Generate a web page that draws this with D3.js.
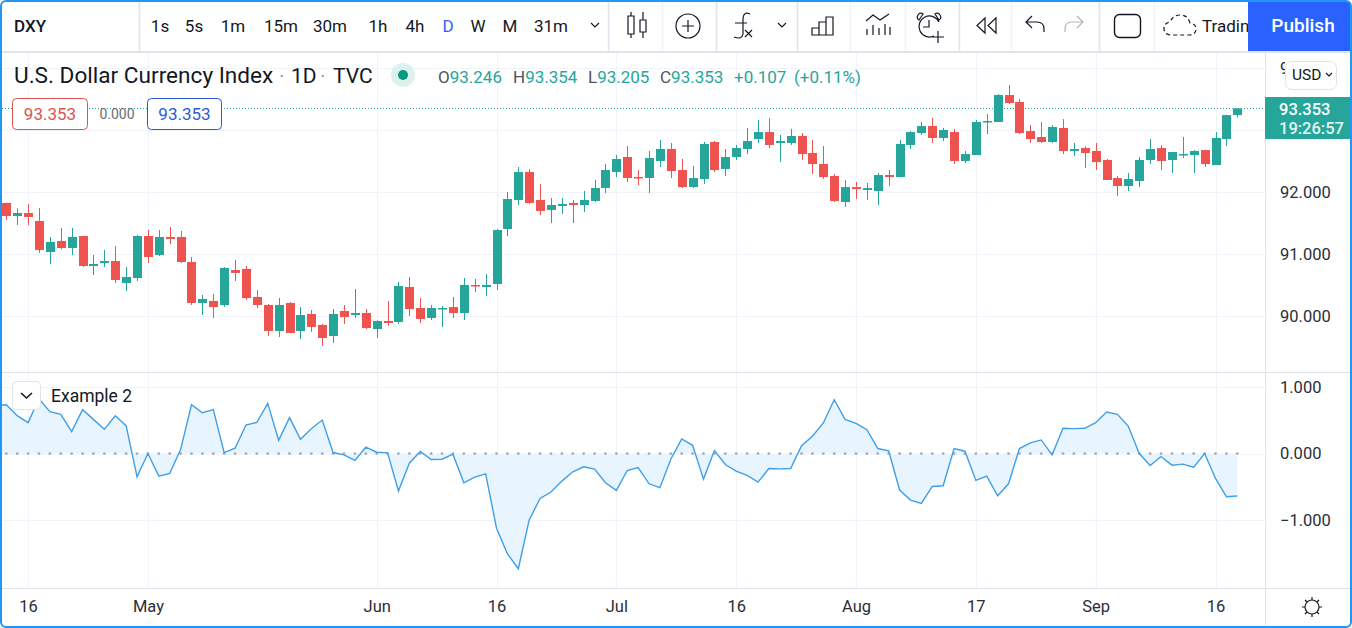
<!DOCTYPE html>
<html>
<head>
<meta charset="utf-8">
<script src="https://cdn.jsdelivr.net/npm/d3@7"></script>
<style>
    html, body { margin: 0; padding: 0; background: #fff; }
    svg { display: block; }
    text { font-family: Roboto, "Noto Sans", sans-serif; fill: #131722; }
</style>
</head>
<body>
<div id="chart"></div>
<script>
// bars, oldest first
var opens = [91.828,91.618,91.666,91.537,91.037,91.215,91.102,91.295,90.811,90.860,90.892,90.537,90.618,91.295,90.989,91.279,91.279,90.876,90.215,90.247,90.182,90.747,90.763,90.311,90.182,89.763,90.215,89.763,90.037,89.860,
    89.682,90.086,90.021,90.053,89.795,89.924,89.908,90.473,90.134,89.973,90.118,90.150,90.053,90.505,90.473,90.521,91.408,91.876,92.328,91.876,91.715,91.779,91.828,91.795,91.860,92.070,92.328,92.570,92.247,92.231,
    92.505,92.698,92.359,92.085,92.214,92.811,92.376,92.569,92.698,92.859,92.972,92.795,92.795,92.908,92.634,92.456,92.263,91.843,92.085,92.037,92.021,92.279,92.246,92.763,92.956,93.069,92.876,92.972,92.505,92.601,
    93.134,93.134,93.569,93.456,92.988,92.892,92.811,93.037,92.666,92.714,92.666,92.521,92.230,92.101,92.182,92.521,92.714,92.521,92.601,92.601,92.682,92.440,92.859,93.246];
var highs = [91.830,91.742,91.811,91.747,91.279,91.424,91.424,91.295,90.989,91.070,91.134,90.795,91.311,91.392,91.392,91.440,91.376,90.957,90.344,90.360,90.795,90.908,90.811,90.424,90.199,90.295,90.231,90.150,90.102,89.876,
    90.118,90.182,90.440,90.118,89.940,90.247,90.553,90.634,90.295,90.182,90.166,90.311,90.618,90.602,90.682,91.408,92.005,92.408,92.376,92.134,91.908,91.908,91.876,92.021,92.199,92.457,92.602,92.747,92.360,92.666,
    92.844,92.795,92.537,92.424,92.811,92.827,92.698,92.763,93.037,93.166,93.198,92.924,93.021,92.956,92.843,92.746,92.295,92.198,92.166,92.150,92.311,92.359,92.843,92.988,93.134,93.198,93.037,93.021,92.666,93.166,
    93.263,93.585,93.730,93.505,93.085,93.134,93.085,93.182,92.795,92.746,92.795,92.537,92.263,92.311,92.569,92.859,92.763,92.650,92.892,92.682,92.682,92.972,93.246,93.354];
var lows = [91.553,91.473,91.473,91.021,90.844,91.080,90.989,90.795,90.666,90.795,90.537,90.408,90.570,90.860,90.973,91.166,90.860,90.182,90.021,89.973,90.150,90.570,90.263,90.134,89.682,89.666,89.731,89.634,89.747,89.521,
    89.570,89.876,89.973,89.795,89.650,89.844,89.876,90.005,89.892,89.940,89.828,89.973,89.940,90.392,90.328,90.424,91.295,91.795,91.811,91.634,91.505,91.650,91.505,91.682,91.844,91.989,92.247,92.166,92.118,91.989,
    92.408,92.230,92.069,92.069,92.134,92.327,92.263,92.521,92.617,92.795,92.714,92.488,92.763,92.521,92.295,92.214,91.843,91.763,91.892,91.876,91.795,92.101,92.246,92.698,92.924,92.795,92.827,92.456,92.472,92.601,
    92.940,93.134,93.424,92.940,92.795,92.795,92.795,92.617,92.585,92.392,92.359,92.198,91.940,92.021,92.085,92.456,92.359,92.311,92.553,92.311,92.408,92.440,92.746,93.205];
var closes = [91.618,91.666,91.602,91.070,91.199,91.102,91.279,90.811,90.844,90.892,90.586,90.634,91.295,90.957,91.279,91.247,90.876,90.215,90.279,90.150,90.779,90.699,90.295,90.182,89.763,90.182,89.731,90.021,89.828,89.650,
    90.037,89.989,90.053,89.811,89.924,89.892,90.489,90.118,89.957,90.134,90.134,90.053,90.505,90.489,90.505,91.392,91.892,92.328,91.828,91.699,91.795,91.811,91.795,91.876,92.070,92.360,92.537,92.231,92.231,92.553,
    92.699,92.343,92.085,92.230,92.779,92.359,92.569,92.714,92.827,92.972,92.763,92.827,92.908,92.617,92.456,92.246,91.859,92.085,92.053,92.069,92.279,92.246,92.779,92.972,93.069,92.876,93.005,92.505,92.617,93.134,
    93.150,93.569,93.440,92.956,92.859,92.811,93.053,92.666,92.698,92.634,92.488,92.198,92.101,92.214,92.521,92.698,92.505,92.650,92.617,92.666,92.456,92.876,93.246,93.353];

// oscillator, first value belongs to the bar just off the left edge
var oscillator = [0.72,0.731,0.567,0.463,0.821,0.627,0.587,0.328,0.657,0.512,0.363,0.567,0.418,-0.348,0,-0.338,-0.299,0.060,0.731,0.612,0.657,0.015,0.080,0.428,0.468,0.751,0.199,0.537,0.214,0.373,0.502,
    0.015,-0.020,-0.104,0.095,0.020,0.010,-0.562,-0.144,0.030,-0.090,-0.085,-0.010,-0.438,-0.353,-0.303,-1.119,-1.502,-1.726,-0.995,-0.672,-0.577,-0.413,-0.274,-0.199,-0.234,-0.438,-0.552,-0.254,-0.209,-0.453,
    -0.512,-0.085,0.219,0.124,-0.383,0.045,-0.164,-0.264,-0.328,-0.428,-0.224,-0.229,-0.224,0.119,0.259,0.458,0.806,0.512,0.453,0.358,0.075,0.040,-0.547,-0.697,-0.746,-0.493,-0.483,0.075,0.035,-0.403,
    -0.338,-0.632,-0.453,0.075,0.159,0.204,-0.020,0.378,0.373,0.378,0.463,0.622,0.587,0.408,0,-0.179,-0.045,-0.174,-0.159,-0.204,0,-0.373,-0.647,-0.637];

var priceGrid = [94, 93, 92, 91, 90];
var priceTicks = [92, 91, 90];
var oscTicks = [1, 0, -1];
var timeTickBars = [2, 13, 34, 45, 56, 67, 78, 89, 100, 111];
var timeTickLabels = ['16', 'May', 'Jun', '16', 'Jul', '16', 'Aug', '17', 'Sep', '16'];
var intervals = ['1s', '5s', '1m', '15m', '30m', '1h', '4h', 'D', 'W', 'M', '31m'];
var intervalCentres = [160, 194, 233, 281, 330, 378, 415, 448, 478, 510, 551];
var legendPairs = [['O', '93.246'], ['H', '93.354'], ['L', '93.205'], ['C', '93.353']];
var legendPairX = [438, 513, 588, 660];

var colorUp = '#26a69a', colorDown = '#ef5350', colorGrid = '#f0f3fa', colorRule = '#e0e3eb', colorInk = '#131722';
var width = 1352, height = 628;
var axisX = 1265, toolbarY = 52, paneY = 372.5, timeY = 588.5;

var svg = d3.select('#chart').append('svg').attr('width', width).attr('height', height);

var barX = d3.scaleLinear().domain([0, opens.length - 1]).range([6.3, 1237.3]);
var priceY = d3.scaleLinear().domain([90, 92]).range([316.3, 192.3]);
var oscY = d3.scaleLinear().domain([-1, 1]).range([520.3, 386.8]);

var defs = svg.append('defs');
defs.append('clipPath').attr('id', 'mainClip').append('rect')
    .attr('x', 2).attr('y', toolbarY).attr('width', axisX - 2).attr('height', paneY - toolbarY);
defs.append('clipPath').attr('id', 'oscClip').append('rect')
    .attr('x', 2).attr('y', paneY).attr('width', axisX - 2).attr('height', timeY - paneY);

function snap(v) { return Math.round(v) + 0.5; }

// grid
var grid = svg.append('g').attr('stroke', colorGrid).attr('fill', 'none');
grid.selectAll('.vgrid').data(timeTickBars).enter().append('line')
    .attr('x1', function (d) { return snap(barX(d)); }).attr('x2', function (d) { return snap(barX(d)); })
    .attr('y1', toolbarY).attr('y2', timeY);
grid.selectAll('.hgrid').data(priceGrid).enter().append('line')
    .attr('x1', 2).attr('x2', axisX)
    .attr('y1', function (d) { return snap(priceY(d)); }).attr('y2', function (d) { return snap(priceY(d)); });
grid.selectAll('.ogrid').data(oscTicks).enter().append('line')
    .attr('x1', 2).attr('x2', axisX)
    .attr('y1', function (d) { return snap(oscY(d)); }).attr('y2', function (d) { return snap(oscY(d)); });

// last price line
svg.append('line').attr('x1', 2).attr('x2', axisX)
    .attr('y1', snap(priceY(closes[closes.length - 1]))).attr('y2', snap(priceY(closes[closes.length - 1])))
    .attr('stroke', colorUp).attr('stroke-dasharray', '1,2');

// candles
var bars = svg.append('g').attr('clip-path', 'url(#mainClip)');
var barData = opens.map(function (o, i) { return { i: i, o: o, h: highs[i], l: lows[i], c: closes[i] }; });
function barColor(d) { return d.c >= d.o ? colorUp : colorDown; }
bars.selectAll('.wick').data(barData).enter().append('line')
    .attr('x1', function (d) { return snap(barX(d.i)); }).attr('x2', function (d) { return snap(barX(d.i)); })
    .attr('y1', function (d) { return priceY(d.h); }).attr('y2', function (d) { return priceY(d.l); })
    .attr('stroke', barColor);
bars.selectAll('.body').data(barData).enter().append('rect')
    .attr('x', function (d) { return Math.round(barX(d.i)) - 4; })
    .attr('width', 9)
    .attr('y', function (d) { return priceY(Math.max(d.o, d.c)); })
    .attr('height', function (d) { return Math.max(1.5, Math.abs(priceY(d.o) - priceY(d.c))); })
    .attr('fill', barColor);

// oscillator pane
var osc = svg.append('g').attr('clip-path', 'url(#oscClip)');
var oscX = function (i) { return barX(i - 1); };
osc.append('path').datum(oscillator)
    .attr('fill', '#e8f4fe')
    .attr('d', d3.area().x(function (d, i) { return oscX(i); }).y0(oscY(0)).y1(function (d) { return oscY(d); }));
osc.selectAll('.zero').data(barData).enter().append('circle')
    .attr('cx', function (d) { return barX(d.i); }).attr('cy', oscY(0)).attr('r', 1.4).attr('fill', '#a8abb5');
osc.append('path').datum(oscillator)
    .attr('fill', 'none').attr('stroke', '#3f9fe8').attr('stroke-width', 1.4)
    .attr('d', d3.line().x(function (d, i) { return oscX(i); }).y(function (d) { return oscY(d); }));

// rules
function rule(x1, y1, x2, y2, color, w) {
    svg.append('line').attr('x1', x1).attr('y1', y1).attr('x2', x2).attr('y2', y2)
        .attr('stroke', color || colorRule).attr('stroke-width', w || 1);
}
rule(2, paneY, width, paneY);
rule(2, timeY, width, timeY);
rule(axisX + 0.5, toolbarY, axisX + 0.5, height);

// axes
var fmt = d3.format('.3f');
var priceAxis = svg.append('g').attr('transform', 'translate(' + axisX + ',0)')
    .call(d3.axisRight(priceY).tickValues(priceTicks).tickSize(0).tickPadding(15).tickFormat(fmt));
var oscAxis = svg.append('g').attr('transform', 'translate(' + axisX + ',0)')
    .call(d3.axisRight(oscY).tickValues(oscTicks).tickSize(0).tickPadding(15).tickFormat(fmt));
var timeAxis = svg.append('g').attr('transform', 'translate(0,' + timeY + ')')
    .call(d3.axisBottom(barX).tickValues(timeTickBars).tickSize(0).tickPadding(12)
        .tickFormat(function (d, i) { return timeTickLabels[i]; }));
[priceAxis, oscAxis, timeAxis].forEach(function (a) {
    a.select('.domain').remove();
    a.selectAll('text').attr('font-family', null).style('font-size', '16.5px').style('fill', '#2a2e39');
});

// toolbar
rule(2, toolbarY, width, toolbarY, colorRule, 2);
[139.5, 608.5, 716.5, 797.5, 959.5, 1099.5].forEach(function (x) { rule(x, 2, x, 51, colorRule, 1.5); });
[662.5, 850.5, 905.5, 1011.5, 1154.5].forEach(function (x) { rule(x, 2, x, 51, colorGrid, 1.5); });

function label(x, y, str, size, color, anchor, weight) {
    return svg.append('text').attr('x', x).attr('y', y).text(str)
        .style('font-size', size + 'px').style('fill', color || colorInk)
        .attr('text-anchor', anchor || 'start').style('font-weight', weight || 400);
}
label(14, 32, 'DXY', 17, colorInk, 'start', 500);
intervals.forEach(function (t, i) {
    label(intervalCentres[i], 32, t, 17, t === 'D' ? '#2962ff' : colorInk, 'middle');
});

function icon(d, color, w, dash) {
    var p = svg.append('path').attr('d', d).attr('fill', 'none')
        .attr('stroke', color || colorInk).attr('stroke-width', w || 1.2);
    if (dash) { p.attr('stroke-dasharray', dash); }
    return p;
}
function chevron(cx, cy) { icon('M' + (cx - 4) + ' ' + (cy - 2) + 'l4 4l4 -4'); }
chevron(595, 25);
chevron(782, 25);
icon('M628 16h6v18h-6z M631 12v4 M631 34v4 M640 20h6v12h-6z M643 12v8 M643 32v6');
icon('M700 26a12 12 0 1 1 -24 0a12 12 0 1 1 24 0 M688 20v12 M682 26h12');
icon('M750 14q-6 -3 -7 4v16q-1 6 -9 3 M735 23h12 M745 30l7 7 M752 30l-7 7');
icon('M812 35v-7h7v7z M819 35v-13h7v13z M826 35v-18h7v18z');
icon('M866 21l7 -6l7 5l9 -6 M867 29v6 M873 25v10 M879 28v7 M885 24v11 M890 27v8');
icon('M939 22a10.5 10.5 0 1 0 -5 14 M929 20v7h-6 M919 20q-3 -2 -1 -5q2 -3 5 -1z M939 20q3 -2 1 -5q-2 -3 -5 -1z M938 31v12 M932 37h12');
icon('M985 18l-8 7.5l8 7.5z M996 18l-8 7.5l8 7.5z');
icon('M1044 32v-3q0 -7 -7 -7h-11 M1032 16l-6 6l6 6');
icon('M1065 32v-3q0 -7 7 -7h11 M1077 16l6 6l-6 6', '#b2b5be');
svg.append('rect').attr('x', 1114.5).attr('y', 14.5).attr('width', 26).attr('height', 23).attr('rx', 5)
    .attr('fill', 'none').attr('stroke', colorInk).attr('stroke-width', 1.4);
icon('M1170 35q-6 -1 -6 -6q0 -6 6 -7q3 -7 10 -7q8 0 10 8q6 1 6 6q0 5 -6 6z', colorInk, 1.2, '4,3');
label(1202, 32, 'Tradin', 17);
svg.append('rect').attr('x', 1248).attr('y', 2).attr('width', 102).attr('height', 49).attr('fill', '#2962ff');
label(1303, 32, 'Publish', 19, '#fff', 'middle', 500);

// legend
label(14, 83, 'U.S. Dollar Currency Index', 22.6);
label(279, 83, '\u00b7', 21, '#9598a1');
label(291, 83, '1D', 21);
label(320, 83, '\u00b7', 21, '#9598a1');
label(333, 83, 'TVC', 21);
svg.append('circle').attr('cx', 403).attr('cy', 75).attr('r', 12).attr('fill', '#dff1ef');
svg.append('circle').attr('cx', 403).attr('cy', 75).attr('r', 5).attr('fill', '#089981');
legendPairs.forEach(function (p, i) {
    var t = label(legendPairX[i], 83, p[0], 17, '#50535e');
    t.append('tspan').text(p[1]).style('fill', colorUp);
});
label(734, 83, '+0.107', 17, colorUp);
label(794, 83, '(+0.11%)', 17, colorUp);

// value badges
function badge(x, w, color, str) {
    svg.append('rect').attr('x', x).attr('y', 98.5).attr('width', w).attr('height', 31).attr('rx', 4)
        .attr('fill', '#fff').attr('stroke', color);
    label(x + w / 2, 120, str, 17, color, 'middle');
}
badge(12.5, 75, '#e0524d', '93.353');
label(117, 119, '0.000', 14, '#6a6d78', 'middle');
badge(147.5, 74, '#2a5bd7', '93.353');

// price tag, usd button
svg.append('rect').attr('x', axisX).attr('y', 97).attr('width', width - axisX - 2).attr('height', 42).attr('fill', colorUp);
label(1279, 115, '93.353', 16.5, '#fff', 'start', 500);
label(1279, 134, '19:26:57', 16.5, '#e4f4f2', 'start', 500);
// top price label, cut off by the button
defs.append('clipPath').attr('id', 'peekClip').append('rect')
    .attr('x', 1270).attr('y', 55).attr('width', 15).attr('height', 30);
label(1280, 74, '9', 16.5, '#2a2e39').attr('clip-path', 'url(#peekClip)');
svg.append('rect').attr('x', 1285.5).attr('y', 61.5).attr('width', 51).attr('height', 28).attr('rx', 6)
    .attr('fill', '#fff').attr('stroke', colorRule);
label(1292, 80, 'USD', 15.5);
icon('M1326 73l3 3l3 -3');

// pane legend
svg.append('rect').attr('x', 12.5).attr('y', 381.5).attr('width', 28).attr('height', 28).attr('rx', 4)
    .attr('fill', '#fff').attr('stroke', colorRule);
icon('M21 393l5.5 5l5.5 -5', colorInk, 1.6);
label(51, 402, 'Example 2', 17.5);

// sun
icon('M1319 607a7 7 0 1 1 -14 0a7 7 0 1 1 14 0 M1312 597v3 M1312 614v3 M1302 607h3 M1319 607h3 M1305 600l2 2 M1317 612l2 2 M1319 600l-2 2 M1307 612l-2 2');

// window frame
svg.append('rect').attr('x', 1).attr('y', 1).attr('width', width - 2).attr('height', height - 2).attr('rx', 5)
    .attr('fill', 'none').attr('stroke', '#2196f3').attr('stroke-width', 2);
</script>
</body>
</html>
